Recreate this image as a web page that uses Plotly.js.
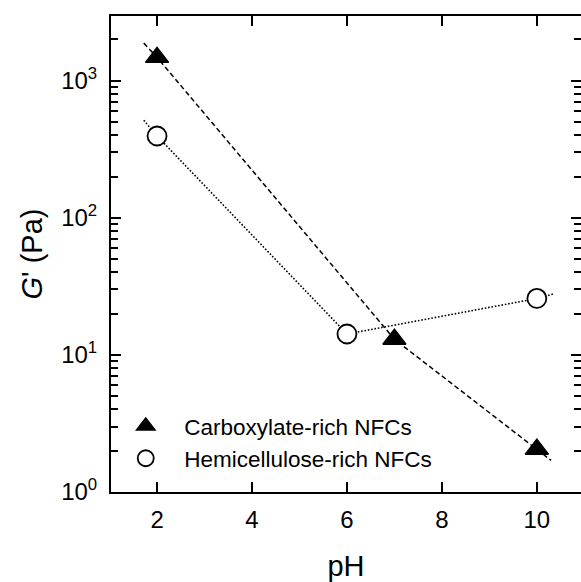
<!DOCTYPE html>
<html>
<head>
<meta charset="utf-8">
<script src="https://cdn.plot.ly/plotly-3.0.1.min.js"></script>
<style>
html, body { margin: 0; padding: 0; background: #fff; }
#chart { width: 581px; height: 582px; }
</style>
</head>
<body>
<div id="chart"></div>
<script>
const carbPH = [2, 7, 10];
const carbG = [1480, 13, 2.05];
const hemiPH = [2, 6, 10];
const hemiG = [395, 14.2, 25.8];

// Guide lines through the points, extended slightly past the ends
const carbLinePH = [1.72, 2, 7, 10, 10.3];
const carbLineG = [1880, 1480, 13, 2.05, 1.7];
const hemiLinePH = [1.72, 2, 6, 10, 10.36];
const hemiLineG = [515, 395, 14.2, 25.8, 27.9];

const seriesNames = ['Carboxylate-rich NFCs', 'Hemicellulose-rich NFCs'];

const xTickVals = [2, 4, 6, 8, 10];
const xTickText = ['2', '4', '6', '8', '10'];
const yTickVals = [1, 10, 100, 1000];
const yTickText = ['10<sup>0</sup>', '10<sup>1</sup>', '10<sup>2</sup>', '10<sup>3</sup>'];
const yMinorVals = [2, 3, 4, 5, 6, 7, 8, 9, 20, 30, 40, 50, 60, 70, 80, 90,
                    200, 300, 400, 500, 600, 700, 800, 900, 2000, 3000];

const FONT = 'Arial, "Liberation Sans", sans-serif';
const X_RANGE = [1.03, 10.93];
const Y_RANGE = [0, 3.472];
const CLEAR = 'rgba(0,0,0,0)';

function tickAxisX(side) {
  return {
    range: X_RANGE, overlaying: 'x', anchor: 'y', side: side,
    tickmode: 'array', tickvals: xTickVals,
    ticks: 'inside', ticklen: 10, tickwidth: 2, tickcolor: '#000',
    showticklabels: false, showline: false, showgrid: false, zeroline: false
  };
}
function tickAxisY(side, vals, len) {
  return {
    type: 'log', range: Y_RANGE, overlaying: 'y', anchor: 'x', side: side,
    tickmode: 'array', tickvals: vals,
    ticks: 'inside', ticklen: len, tickwidth: 2, tickcolor: '#000',
    showticklabels: false, showline: false, showgrid: false, zeroline: false
  };
}
function carrier(xa, ya) {
  return { x: [], y: [], xaxis: xa, yaxis: ya, mode: 'markers', showlegend: false, hoverinfo: 'skip' };
}

const traces = [
  { x: carbLinePH, y: carbLineG, mode: 'lines', showlegend: false, hoverinfo: 'skip',
    line: { color: '#000', width: 1.5, dash: '5px,3px' } },
  { x: hemiLinePH, y: hemiLineG, mode: 'lines', showlegend: false, hoverinfo: 'skip',
    line: { color: '#000', width: 1.6, dash: '1.6px,1.8px' } },
  { x: carbPH, y: carbG, mode: 'markers', name: seriesNames[0], legendgroup: 'a',
    marker: { symbol: 'triangle-up', size: 20, color: '#000', line: { color: '#000', width: 1.5 } } },
  { x: hemiPH, y: hemiG, mode: 'markers', name: seriesNames[1], legendgroup: 'b',
    marker: { symbol: 'circle', size: 19, color: '#fff', line: { color: '#000', width: 1.8 } } },
  // empty traces carrying the tick-only axes
  carrier('x2', 'y'), carrier('x3', 'y'),
  carrier('x', 'y2'), carrier('x', 'y3'), carrier('x', 'y4'), carrier('x', 'y5')
];

const layout = {
  width: 581, height: 582,
  margin: { l: 111, r: 0, t: 16, b: 90 },
  font: { family: FONT, color: '#000', size: 24 },
  showlegend: true,
  legend: {
    x: -0.008, y: 0.183, xanchor: 'left', yanchor: 'top',
    bgcolor: CLEAR,
    font: { size: 22.5 }, tracegroupgap: 0, itemwidth: 67
  },
  xaxis: {
    range: X_RANGE,
    tickmode: 'array', tickvals: xTickVals, ticktext: xTickText,
    ticks: 'outside', ticklen: 5, tickcolor: CLEAR,
    showline: true, linewidth: 2, linecolor: '#000', mirror: true,
    showgrid: false, zeroline: false,
    title: { text: 'pH', standoff: 28 }
  },
  xaxis2: tickAxisX('bottom'),
  xaxis3: tickAxisX('top'),
  yaxis: {
    type: 'log', range: Y_RANGE,
    tickmode: 'array', tickvals: yTickVals, ticktext: yTickText,
    ticks: 'outside', ticklen: 7, tickcolor: CLEAR,
    showline: true, linewidth: 2, linecolor: '#000', mirror: true,
    showgrid: false, zeroline: false,
    title: { text: '<i>G</i>\' (Pa)' }
  },
  yaxis2: tickAxisY('left', yTickVals, 10),
  yaxis3: tickAxisY('left', yMinorVals, 7),
  yaxis4: tickAxisY('right', yTickVals, 10),
  yaxis5: tickAxisY('right', yMinorVals, 7)
};

Plotly.newPlot('chart', traces, layout, { displayModeBar: false });
</script>
</body>
</html>
